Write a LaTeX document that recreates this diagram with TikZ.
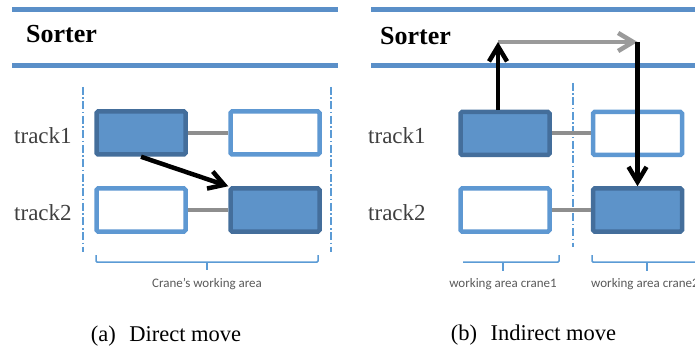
\documentclass[tikz,border=0pt]{standalone}
\usepackage{fontspec}
\setmainfont{Liberation Serif}
\newfontfamily\labelfont{Carlito}
\usetikzlibrary{arrows.meta}

\definecolor{railblue}{HTML}{5A8FC8}
\definecolor{boxfill}{HTML}{5D93C9}
\definecolor{boxdark}{HTML}{446E9B}
\definecolor{boxlight}{HTML}{5E98D2}
\definecolor{dashblue}{HTML}{5B9BD5}
\definecolor{linkgray}{HTML}{8E8E8E}
\definecolor{hopgray}{HTML}{9A9A9A}
\definecolor{trackgray}{HTML}{3F3F3F}
\definecolor{areagray}{HTML}{595959}

\begin{document}
\begin{tikzpicture}[x=1pt,y=-1pt,
  rail/.style={draw=railblue, line width=5pt},
  slot/.style={line width=4.5pt, rounded corners=1.5pt, minimum width=89pt,
    minimum height=43pt, inner sep=0pt, outer sep=2.25pt},
  filledbox/.style={slot, draw=boxdark, fill=boxfill},
  emptybox/.style={slot, draw=boxlight, fill=white},
  link/.style={draw=linkgray, line width=4pt},
  move/.style={draw=black, line width=4.5pt,
    -{Straight Barb[length=15pt,width=18pt]}},
  hop/.style={move, draw=hopgray},
  boundary/.style={draw=dashblue, line width=1.5pt,
    dash pattern=on 8pt off 2.5pt on 1.5pt off 2.5pt},
  brace/.style={draw=dashblue, line width=1.5pt, rounded corners=1pt},
  sorterlabel/.style={font=\fontsize{26}{26}\selectfont\bfseries,
    anchor=base west, inner sep=0pt},
  tracklabel/.style={font=\fontsize{23}{23}\selectfont, text=trackgray,
    anchor=base west, inner sep=0pt},
  arealabel/.style={font=\labelfont\fontsize{13}{13}\selectfont,
    text=areagray, anchor=base, inner sep=0pt},
  caption/.style={font=\fontsize{22.5}{22.5}\selectfont, anchor=base,
    inner sep=0pt}]

\clip (0,0) rectangle (695,347);

% ---------------- (a) direct move ----------------
\draw[rail] (12,9.8) -- (338,9.8);
\draw[rail] (12,65.5) -- (338,65.5);
\node[sorterlabel] (sorterA) at (26,42.7) {Sorter};

\draw[boundary] (83,87) -- (83,252);
\draw[boundary] (331,87) -- (331,252);

\node[tracklabel] (trackA1) at (14,143.3) {track1};
\node[tracklabel] (trackA2) at (14,220) {track2};

\node[filledbox] (t1a) at (141,133) {};
\node[emptybox]  (t1b) at (275,133) {};
\node[emptybox]  (t2a) at (141,210) {};
\node[filledbox] (t2b) at (275,210) {};
\draw[link] (t1a.east) -- (t1b.west);
\draw[link] (t2a.east) -- (t2b.west);

\draw[move] (t1a.south) -- (t2b.north west);

\draw[brace] (96,255) -- (96,262) -- (318,262) -- (318,255);
\draw[brace] (207,262) -- (207,270);
\node[arealabel] (areaA) at (207,287) {Crane’s working area};

\node[caption] (capA) at (166,341) {(a)\hspace{0.6em}Direct move};

% ---------------- (b) indirect move ----------------
\draw[rail] (371,10) -- (700,10);
\draw[rail] (371,65.7) -- (700,65.7);
\node[sorterlabel] (sorterB) at (380,45) {Sorter};

\draw[boundary] (573,83) -- (573,247);

\node[tracklabel] (trackB1) at (368,143.3) {track1};
\node[tracklabel] (trackB2) at (368,220) {track2};

\node[filledbox] (r1a) at (505,133.5) {};
\node[emptybox]  (r1b) at (637.5,133.5) {};
\node[emptybox]  (r2a) at (505,210) {};
\node[filledbox] (r2b) at (637.5,210) {};
\draw[link] (r1a.east) -- (r1b.west);
\draw[link] (r2a.east) -- (r2b.west);

\coordinate (lift) at (498,42);
\coordinate (drop) at (637.5,42);
\draw[hop] (lift) -- (drop);
\draw[move] (r1a.north -| lift) -- (lift);
\draw[move] (drop) -- (r2b.north);

\draw[brace] (463,262) -- (559,262) -- (559,255);
\draw[brace] (503,262) -- (503,271);
\draw[brace] (592,255) -- (592,262) -- (700,262);
\draw[brace] (647,262) -- (647,271);
\node[arealabel] (areaB1) at (503,287) {working area crane1};
\node[arealabel, anchor=base west] (areaB2) at (591,287) {working area crane2};

\node[caption] (capB) at (533.5,340) {(b)\hspace{0.6em}Indirect move};
\end{tikzpicture}
\end{document}
